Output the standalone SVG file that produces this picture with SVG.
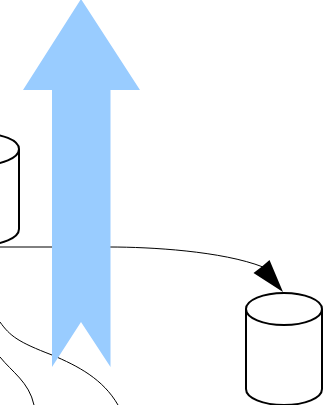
<svg xmlns="http://www.w3.org/2000/svg" width="326" height="405" viewBox="0 0 326 405">
<style>
.cyl{fill:#fff;stroke:#000;stroke-width:2}
.cap{fill:none;stroke:#000;stroke-width:2}
.edge{fill:none;stroke:#000;stroke-width:1}
</style>
<rect width="326" height="405" fill="#fff"/>
<g id="cylinder-left">
<path class="cyl" d="M-57 149C-57 140 -40 133.500 -19 133.500C2 133.500 19 140 19 149V229C19 238 2 245 -19 245C-40 245 -57 238 -57 229Z"/>
<path class="cap" d="M-57 149C-57 158 -40 165 -19 165C2 165 19 158 19 149"/>
</g>
<g id="cylinder-right">
<path class="cyl" d="M246 309C246 300 263 293 284 293C305 293 322 300 322 309V389C322 398 305 405 284 405C263 405 246 398 246 389Z"/>
<path class="cap" d="M246 309C246 318 263 325 284 325C305 325 322 318 322 309"/>
</g>
<g id="connectors">
<path class="edge" d="M0 247H110C150 247 222 251 263 267"/>
<path d="M283 292L253.500 273L262 266.500L269.500 260Z" fill="#000"/>
<path class="edge" d="M0 322C10 336 18 342 52 355C78 366 103 379 118 405"/>
<path class="edge" d="M0 357C12 372 29 382 34 405"/>
</g>
<g id="big-arrow">
<path d="M81 -1L140 90H110.500V367L81 322L52 367V90H23Z" fill="#99ccff"/>
</g>
</svg>
